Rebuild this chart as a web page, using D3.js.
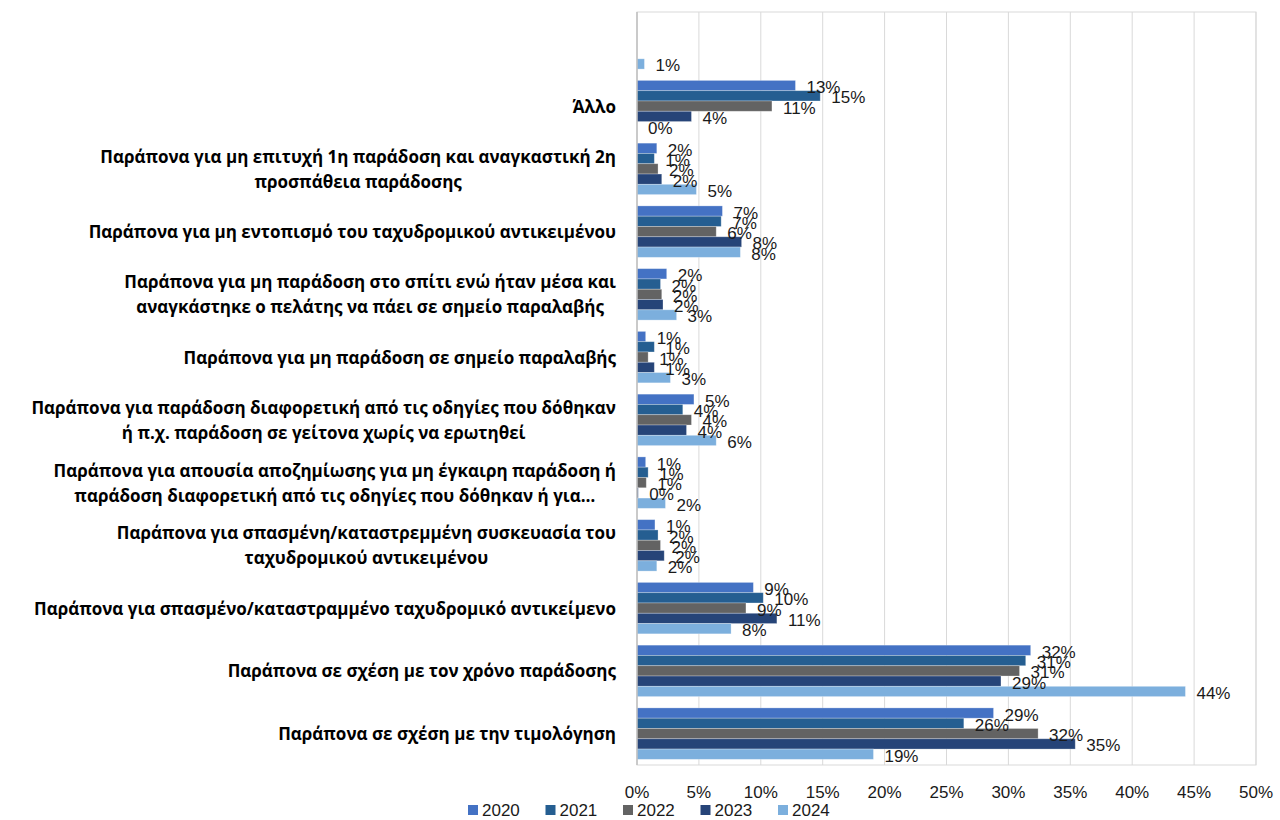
<!DOCTYPE html>
<html>
<head>
<meta charset="utf-8">
<script src="https://cdnjs.cloudflare.com/ajax/libs/d3/7.8.5/d3.min.js"></script>
<style>
  body { margin: 0; background: #fff; }
  svg text { font-family: "Liberation Sans", Arial, sans-serif; }
  svg text.cat { font-family: "Open Sans", "Liberation Sans", sans-serif; }
</style>
</head>
<body>
<div id="chart"></div>
<script>
// categories, top to bottom (multi-line labels as arrays)
var categories = [
  [""],
  ["Άλλο"],
  ["Παράπονα για μη επιτυχή 1η παράδοση και αναγκαστική 2η", "προσπάθεια παράδοσης"],
  ["Παράπονα για μη εντοπισμό του ταχυδρομικού αντικειμένου"],
  ["Παράπονα για μη παράδοση στο σπίτι ενώ ήταν μέσα και", "αναγκάστηκε ο πελάτης να πάει σε σημείο παραλαβής"],
  ["Παράπονα για μη παράδοση σε σημείο παραλαβής"],
  ["Παράπονα για παράδοση διαφορετική από τις οδηγίες που δόθηκαν", "ή π.χ. παράδοση σε γείτονα χωρίς να ερωτηθεί"],
  ["Παράπονα για απουσία αποζημίωσης για μη έγκαιρη παράδοση ή", "παράδοση διαφορετική από τις οδηγίες που δόθηκαν ή για…"],
  ["Παράπονα για σπασμένη/καταστρεμμένη συσκευασία του", "ταχυδρομικού αντικειμένου"],
  ["Παράπονα για σπασμένο/καταστραμμένο ταχυδρομικό αντικείμενο"],
  ["Παράπονα σε σχέση με τον χρόνο παράδοσης"],
  ["Παράπονα σε σχέση με την τιμολόγηση"]
];

var years = ["2020", "2021", "2022", "2023", "2024"];
var colors = ["#4472C4", "#255E91", "#636363", "#264478", "#7CAFDD"];

// values in %, same order as categories
var v2020 = [null, 12.8, 1.6, 6.9, 2.4, 0.7, 4.6, 0.7, 1.45, 9.4, 31.8, 28.8];
var v2021 = [null, 14.8, 1.4, 6.8, 1.9, 1.4, 3.7, 0.9, 1.7, 10.2, 31.4, 26.4];
var v2022 = [null, 10.9, 1.7, 6.4, 2.0, 0.9, 4.4, 0.75, 1.9, 8.8, 30.9, 32.4];
var v2023 = [null, 4.4, 2.0, 8.45, 2.1, 1.4, 4.0, 0.1, 2.2, 11.3, 29.4, 35.4];
var v2024 = [0.6, 0.0, 4.8, 8.35, 3.2, 2.7, 6.4, 2.3, 1.6, 7.6, 44.3, 19.1];
var seriesValues = [v2020, v2021, v2022, v2023, v2024];

var xTicks = [0, 5, 10, 15, 20, 25, 30, 35, 40, 45, 50];

var W = 1280, H = 820;
var plot = { left: 637, right: 1256, top: 12, bottom: 765 };

var svg = d3.select("#chart").append("svg")
  .attr("width", W).attr("height", H);

var x = d3.scaleLinear().domain([0, 50]).range([plot.left, plot.right]);
var y = d3.scaleBand().domain(d3.range(categories.length))
  .range([plot.top, plot.bottom]).paddingInner(0.18).paddingOuter(0.09);
var yInner = d3.scaleBand().domain(years).range([0, y.bandwidth()]);

// gridlines
svg.append("g").selectAll("line").data(xTicks.slice(1)).enter().append("line")
  .attr("x1", function(d) { return x(d); }).attr("x2", function(d) { return x(d); })
  .attr("y1", plot.top).attr("y2", plot.bottom)
  .attr("stroke", "#d9d9d9").attr("stroke-width", 1);

// plot border
svg.append("rect")
  .attr("x", plot.left).attr("y", plot.top)
  .attr("width", plot.right - plot.left).attr("height", plot.bottom - plot.top)
  .attr("fill", "none").attr("stroke", "#d9d9d9");

// bars
var rows = [];
categories.forEach(function(c, i) {
  years.forEach(function(yr, j) {
    var v = seriesValues[j][i];
    if (v !== null) rows.push({ cat: i, year: yr, idx: j, value: v });
  });
});

svg.append("g").selectAll("rect").data(rows).enter().append("rect")
  .attr("x", x(0))
  .attr("y", function(d) { return y(d.cat) + yInner(d.year); })
  .attr("width", function(d) { return x(d.value) - x(0); })
  .attr("height", yInner.bandwidth())
  .attr("fill", function(d) { return colors[d.idx]; })
  .attr("stroke", "#ffffff").attr("stroke-opacity", 0.35).attr("stroke-width", 0.8);

// left axis line
svg.append("line")
  .attr("x1", plot.left).attr("x2", plot.left)
  .attr("y1", plot.top).attr("y2", plot.bottom)
  .attr("stroke", "#bfbfbf").attr("stroke-width", 1.5);

// data labels
svg.append("g").selectAll("text").data(rows).enter().append("text")
  .attr("x", function(d) { return x(d.value) + 11; })
  .attr("y", function(d) { return y(d.cat) + yInner(d.year) + yInner.bandwidth() / 2 + 2; })
  .attr("dominant-baseline", "central")
  .attr("font-size", 17)
  .attr("fill", "#1a1a1a")
  .text(function(d) { return Math.round(d.value) + "%"; });

// category labels
var catG = svg.append("g");
categories.forEach(function(lines, i) {
  var g = catG.append("g");
  var cy = y(i) + y.bandwidth() / 2;
  var lh = 25;
  var texts = lines.map(function(l, k) {
    return g.append("text")
      .attr("class", "cat")
      .attr("y", cy + (k - (lines.length - 1) / 2) * lh)
      .attr("dominant-baseline", "central")
      .attr("font-size", 17)
      .attr("font-weight", "bold")
      .attr("fill", "#000")
      .text(l);
  });
  var maxW = d3.max(texts, function(t) { return t.node().getComputedTextLength(); });
  texts.forEach(function(t) {
    t.attr("text-anchor", "middle").attr("x", 616 - maxW / 2);
  });
});

// x axis tick labels
svg.append("g").selectAll("text").data(xTicks).enter().append("text")
  .attr("x", function(d) { return x(d); })
  .attr("y", 792)
  .attr("text-anchor", "middle")
  .attr("dominant-baseline", "central")
  .attr("font-size", 17)
  .attr("fill", "#1a1a1a")
  .text(function(d) { return d + "%"; });

// legend
var legend = svg.append("g").selectAll("g").data(years).enter().append("g")
  .attr("transform", function(d, i) { return "translate(" + (468 + i * 77.5) + ",810)"; });
legend.append("rect")
  .attr("x", 0).attr("y", -5).attr("width", 10).attr("height", 10)
  .attr("fill", function(d, i) { return colors[i]; });
legend.append("text")
  .attr("x", 14).attr("y", 0)
  .attr("dominant-baseline", "central")
  .attr("font-size", 17)
  .attr("fill", "#1a1a1a")
  .text(function(d) { return d; });
</script>
</body>
</html>
